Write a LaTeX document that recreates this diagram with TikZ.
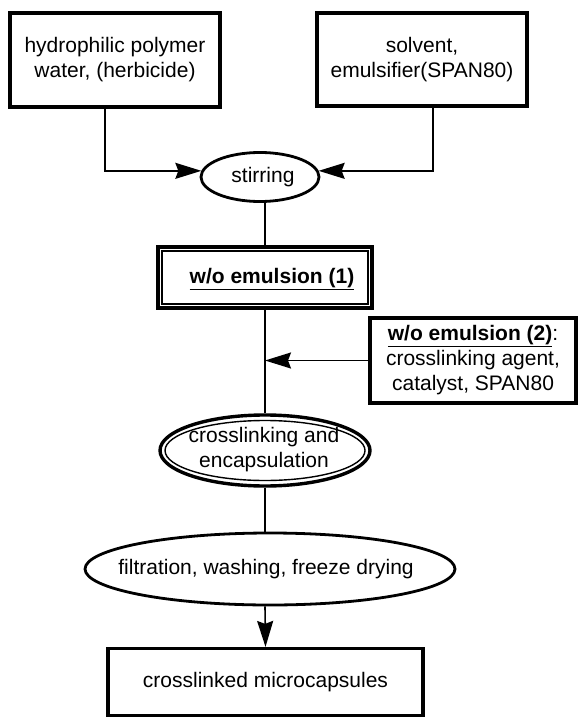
\documentclass[tikz,border=0pt]{standalone}
\usepackage{fontspec}
\setmainfont{Liberation Sans}
\usetikzlibrary{shapes.geometric,arrows.meta,calc}
\begin{document}
\begin{tikzpicture}[x=1pt,y=-1pt,
  every node/.style={font=\fontsize{21}{25}\selectfont, align=center, inner sep=0pt},
  sbox/.style={draw, rectangle, line width=3.2pt},
  ell/.style={draw, ellipse, line width=2.8pt},
  conn/.style={line width=1.6pt},
  arrowc/.style={line width=1.6pt, -{Stealth[length=26pt,width=16pt,inset=3pt]}}
]
\useasboundingbox (0,0) rectangle (578,719);

% column coordinates
\coordinate (l1) at (105,0);
\coordinate (l2) at (433,0);
\coordinate (l3) at (265,0);

% top boxes
\node[sbox, minimum width=210pt, minimum height=94pt] (b1) at (115,60) {hydrophilic polymer\\water, (herbicide)};
\node[sbox, minimum width=210pt, minimum height=93pt] (b2) at (422,59.5) {solvent,\\emulsifier(SPAN80)};

% stirring
\node[ell, minimum width=118pt, minimum height=49pt] (stir) at (260,177) {};
\node (stirt) at (263,177) {stirring};

% w/o emulsion (1) double box
\node[draw, rectangle, line width=3.6pt, minimum width=214pt, minimum height=61pt] (b3) at (265,277.5) {};
\draw[line width=1.8pt] ([shift={(6pt,-6pt)}]b3.north west) rectangle ([shift={(-6pt,6pt)}]b3.south east);
\node (b3t) at (272,279) {\underline{\textbf{w/o emulsion (1)}}};

% w/o emulsion (2)
\node[sbox, minimum width=206pt, minimum height=85pt] (b4) at (473,360.5) {\underline{\textbf{w/o emulsion (2)}}:\\crosslinking agent,\\catalyst, SPAN80};

% crosslinking ellipse (double)
\node[draw, ellipse, line width=3.4pt, minimum width=210pt, minimum height=71pt] (cross) at (265,450.5) {};
\draw[line width=1.4pt] (cross.center) ellipse [x radius=100pt, y radius=30pt];
\node (crosst) at (264,450) {crosslinking and\\encapsulation};

% filtration ellipse
\node[ell, minimum width=370pt, minimum height=72pt] (filt) at (270,569) {};
\node (filtt) at (266,569) {filtration, washing, freeze drying};

% final box
\node[sbox, minimum width=315pt, minimum height=67pt] (fin) at (265.5,682) {};
\node (fint) at (265.5,682) {crosslinked microcapsules};

% connectors
\draw[arrowc] (l1 |- b1.south) |- (stir.174);
\draw[arrowc] (l2 |- b2.south) |- (stir.6);
\draw[conn] (l3 |- stir.south) -- (b3.north);
\draw[conn] (b3.south) -- (cross.north);
\draw[arrowc] (b4.west) -- (b4.west -| l3);
\draw[conn] (cross.south) -- (l3 |- filt.north);
\draw[arrowc] (l3 |- filt.south) -- (fin.north);
\end{tikzpicture}
\end{document}
